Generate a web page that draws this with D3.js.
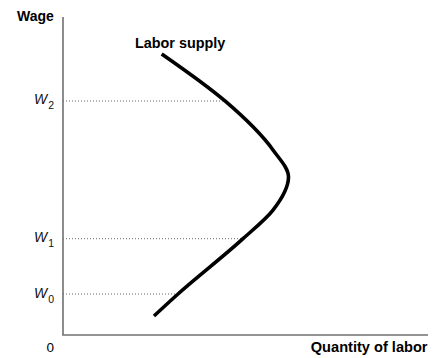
<!DOCTYPE html>
<html>
<head>
<meta charset="utf-8">
<script src="https://cdn.jsdelivr.net/npm/d3@7"></script>
<style>
  html, body { margin: 0; padding: 0; background: #fff; }
  svg { display: block; }
  text { font-family: "Liberation Sans", Arial, Helvetica, sans-serif; }
</style>
</head>
<body>
<svg id="chart" width="433" height="358"></svg>
<script>
// Labor supply curve points (quantity, wage), top to bottom
const supplyQuantity = [27.04, 44.38, 57.53, 61.78, 57.53, 49.32, 31.51, 24.93];
const supplyWage     = [87.54, 72.90, 57.63, 49.22, 38.90, 30.00, 12.77, 5.92];

// Wage levels marked on the vertical axis
const wageLabels = ["W", "W", "W"];
const wageSubs   = ["2", "1", "0"];
const wageValues = [72.9, 30.0, 12.77];
// Quantity where each wage level meets the supply curve
const wageCrossQ = [44.38, 49.32, 31.51];

const svg = d3.select("#chart");
const x = d3.scaleLinear().domain([0, 100]).range([63, 428]);
const y = d3.scaleLinear().domain([0, 100]).range([335, 14]);

// Dotted reference lines
svg.selectAll("line.ref")
  .data(wageValues)
  .enter().append("line")
  .attr("class", "ref")
  .attr("x1", x(0))
  .attr("x2", (d, i) => x(wageCrossQ[i]))
  .attr("y1", d => y(d))
  .attr("y2", d => y(d))
  .attr("stroke", "#666")
  .attr("stroke-width", 1)
  .attr("stroke-dasharray", "1,2");

// Axes
const axisColor = "#707070";
svg.append("line")
  .attr("x1", x(0)).attr("x2", x(0))
  .attr("y1", 17).attr("y2", y(0))
  .attr("stroke", axisColor).attr("stroke-width", 1.6);
svg.append("line")
  .attr("x1", x(0) - 0.8).attr("x2", x(100))
  .attr("y1", y(0)).attr("y2", y(0))
  .attr("stroke", axisColor).attr("stroke-width", 1.6);

// Supply curve
const pts = supplyQuantity.map((q, i) => [q, supplyWage[i]]);
const line = d3.line()
  .x(d => x(d[0]))
  .y(d => y(d[1]))
  .curve(d3.curveMonotoneY);
svg.append("path")
  .datum(pts)
  .attr("d", line)
  .attr("fill", "none")
  .attr("stroke", "#000")
  .attr("stroke-width", 3.6);

// Wage tick labels
const wl = svg.selectAll("text.wl")
  .data(wageValues)
  .enter().append("text")
  .attr("class", "wl")
  .attr("x", 34)
  .attr("y", d => y(d) + 3.5)
  .attr("font-size", 14)
  .attr("font-style", "italic")
  .attr("fill", "#111");
wl.append("tspan").text((d, i) => wageLabels[i]);
wl.append("tspan")
  .attr("dy", 5)
  .attr("dx", 1)
  .attr("font-size", 10.5)
  .attr("font-style", "normal")
  .text((d, i) => wageSubs[i]);

// Axis titles
svg.append("text")
  .attr("x", 17).attr("y", 21)
  .attr("font-size", 14).attr("font-weight", "bold")
  .text("Wage");
svg.append("text")
  .attr("x", 427.5).attr("y", 352)
  .attr("text-anchor", "end")
  .attr("font-size", 14.6).attr("font-weight", "bold")
  .text("Quantity of labor");
svg.append("text")
  .attr("x", 46.5).attr("y", 352)
  .attr("font-size", 13.5)
  .text("0");
svg.append("text")
  .attr("x", 135).attr("y", 48)
  .attr("font-size", 14.4).attr("font-weight", "bold")
  .text("Labor supply");
</script>
</body>
</html>
